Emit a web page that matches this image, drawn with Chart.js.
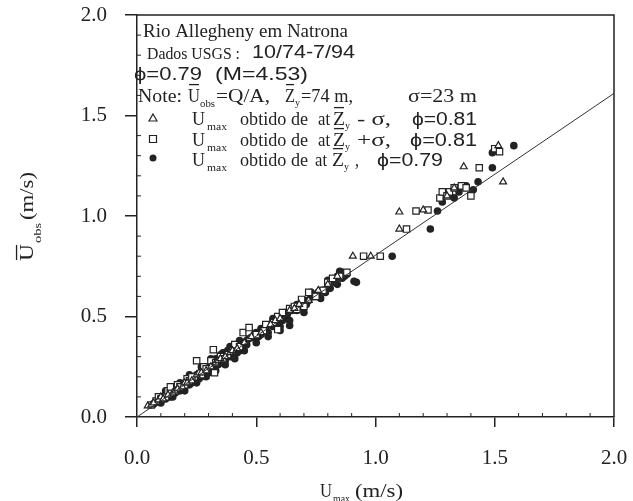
<!DOCTYPE html>
<html>
<head>
<meta charset="utf-8">
<script src="https://cdn.jsdelivr.net/npm/chart.js@4.4.1/dist/chart.umd.min.js"></script>
<style>
  body { margin: 0; background: #fff; }
  #wrap { width: 633px; height: 501px; }
</style>
</head>
<body>
<div id="wrap"><canvas id="chart"></canvas></div>
<script>
// Umax (x) and Uobs (y), one pair of arrays per marker type
const triX = [0.045, 0.06, 0.07, 0.09, 0.10, 0.11, 0.13, 0.15, 0.16, 0.17, 0.19, 0.20, 0.21, 0.23, 0.25, 0.26, 0.27, 0.29, 0.31, 0.33,
              0.34, 0.35, 0.37, 0.39, 0.40, 0.42, 0.45, 0.47, 0.48, 0.52, 0.56, 0.58, 0.60, 0.64, 0.66, 0.68, 0.72, 0.76, 0.80, 0.84,
              0.905, 0.98, 1.10, 1.10, 1.20, 1.30, 1.37, 1.515, 1.535, 1.33];
const triY = [0.055, 0.06, 0.07, 0.085, 0.10, 0.09, 0.11, 0.12, 0.13, 0.14, 0.15, 0.17, 0.17, 0.18, 0.21, 0.22, 0.22, 0.23, 0.25, 0.27,
              0.28, 0.29, 0.30, 0.32, 0.33, 0.34, 0.37, 0.39, 0.40, 0.42, 0.46, 0.48, 0.49, 0.53, 0.54, 0.56, 0.58, 0.63, 0.66, 0.70,
              0.80, 0.80, 0.935, 1.02, 1.03, 1.10, 1.245, 1.35, 1.17, 1.14];

const sqX = [0.06, 0.08, 0.09, 0.10, 0.12, 0.13, 0.14, 0.16, 0.17, 0.18, 0.20, 0.21, 0.22, 0.25, 0.24, 0.27, 0.28, 0.29, 0.31, 0.325,
             0.33, 0.35, 0.36, 0.38, 0.40, 0.41, 0.43, 0.445, 0.47, 0.50, 0.53, 0.54, 0.57, 0.59, 0.61, 0.64, 0.66, 0.70, 0.72, 0.75,
             0.78, 0.80, 0.82, 0.85, 0.88, 0.95, 1.02, 1.13, 1.17, 1.22, 1.27, 1.28, 1.30, 1.31, 1.33, 1.36, 1.40, 1.435, 1.50, 1.52,
             1.38, 0.32, 0.47, 0.59, 0.14, 0.23, 0.67, 0.69];
const sqY = [0.06, 0.08, 0.10, 0.09, 0.10, 0.13, 0.12, 0.13, 0.16, 0.15, 0.16, 0.19, 0.18, 0.28, 0.20, 0.21, 0.25, 0.24, 0.28, 0.22,
             0.27, 0.30, 0.29, 0.31, 0.33, 0.36, 0.35, 0.42, 0.42, 0.41, 0.43, 0.46, 0.47, 0.50, 0.52, 0.54, 0.55, 0.55, 0.62, 0.60,
             0.63, 0.67, 0.69, 0.70, 0.72, 0.80, 0.80, 0.935, 1.025, 1.03, 1.09, 1.12, 1.10, 1.12, 1.14, 1.15, 1.10, 1.24, 1.335, 1.32,
             1.14, 0.335, 0.445, 0.435, 0.15, 0.20, 0.535, 0.585];

const dotX = [0.07, 0.08, 0.09, 0.10, 0.11, 0.12, 0.13, 0.14, 0.15, 0.16, 0.17, 0.18, 0.19, 0.20, 0.21, 0.22, 0.23, 0.24, 0.25, 0.26,
              0.27, 0.28, 0.29, 0.30, 0.31, 0.32, 0.33, 0.34, 0.35, 0.36, 0.37, 0.38, 0.39, 0.40, 0.41, 0.42, 0.43, 0.44, 0.45, 0.46,
              0.47, 0.49, 0.50, 0.52, 0.53, 0.55, 0.56, 0.57, 0.58, 0.60, 0.61, 0.63, 0.64, 0.65, 0.66, 0.68, 0.70, 0.72, 0.74, 0.76,
              0.79, 0.80, 0.82, 0.83, 0.84, 0.85, 0.87, 0.91, 0.92, 1.07, 1.23, 1.26, 1.33, 1.43, 1.49, 1.49, 1.58, 1.41,
              0.10, 0.12, 0.14, 0.16, 0.18, 0.20, 0.22, 0.23, 0.25, 0.27, 0.28, 0.30, 0.32, 0.33, 0.34, 0.35, 0.36, 0.37, 0.38, 0.39,
              0.40, 0.41, 0.42, 0.43, 0.44, 0.46, 0.48, 0.51, 0.54, 0.59, 0.62, 0.67, 0.69, 0.71, 0.73, 0.75, 0.78, 0.81, 0.86, 0.88,
              1.28, 1.30, 1.35, 1.38,
              0.12, 0.15, 0.18, 0.20, 0.22, 0.25, 0.27, 0.29, 0.31, 0.33, 0.35, 0.37, 0.39, 0.41, 0.43, 0.45, 0.47, 0.50, 0.52, 0.55,
              0.57, 0.60, 0.62, 0.64, 0.67, 0.70, 0.73, 0.77, 0.80, 0.84, 0.86];
const dotY = [0.065, 0.08, 0.075, 0.085, 0.10, 0.11, 0.105, 0.115, 0.13, 0.14, 0.13, 0.15, 0.16, 0.17, 0.165, 0.18, 0.19, 0.20, 0.21, 0.19,
              0.23, 0.22, 0.22, 0.24, 0.26, 0.25, 0.27, 0.28, 0.29, 0.30, 0.32, 0.31, 0.33, 0.34, 0.31, 0.35, 0.33, 0.36, 0.37, 0.38,
              0.39, 0.40, 0.42, 0.41, 0.43, 0.42, 0.46, 0.45, 0.47, 0.45, 0.48, 0.51, 0.455, 0.53, 0.54, 0.55, 0.58, 0.58, 0.60, 0.62,
              0.62, 0.66, 0.67, 0.68, 0.70, 0.725, 0.70, 0.675, 0.67, 0.80, 0.935, 1.025, 1.09, 1.17, 1.24, 1.315, 1.35, 1.13,
              0.07, 0.09, 0.10, 0.12, 0.13, 0.15, 0.16, 0.17, 0.18, 0.20, 0.24, 0.22, 0.23, 0.29, 0.26, 0.27, 0.32, 0.28, 0.33, 0.30,
              0.31, 0.35, 0.32, 0.36, 0.34, 0.36, 0.40, 0.40, 0.44, 0.48, 0.49, 0.53, 0.57, 0.56, 0.60, 0.60, 0.63, 0.64, 0.69, 0.71,
              1.07, 1.11, 1.12, 1.15,
              0.13, 0.10, 0.17, 0.13, 0.21, 0.17, 0.25, 0.20, 0.29, 0.23, 0.31, 0.26, 0.35, 0.29, 0.38, 0.33, 0.41, 0.37, 0.44, 0.40,
              0.49, 0.43, 0.52, 0.48, 0.56, 0.52, 0.62, 0.59, 0.68, 0.66, 0.72];

// fitted line through the origin
const fitX = [0, 2];
const fitY = [0, 1.61];

const tickValues = [0, 0.5, 1.0, 1.5, 2.0];

const ink = '#222';
const serif = '"Liberation Serif", "DejaVu Serif", serif';
const sans = '"Liberation Sans", "DejaVu Sans", sans-serif';

const pairs = (xs, ys) => xs.map((x, i) => ({ x: x, y: ys[i] }));

// draw a piece of text stretched to a given width, optional overbar
function seg(ctx, t, x, y, w, size, family, bar) {
  ctx.font = size + 'px ' + (family || serif);
  const m = ctx.measureText(t).width;
  ctx.save();
  ctx.translate(x, y);
  ctx.scale(w / m, 1);
  ctx.fillText(t, 0, 0);
  ctx.restore();
  if (bar) ctx.fillRect(x + 1, y - size * 0.95, w - 2, 1.3);
}

const decor = {
  id: 'decor',
  afterDraw(chart) {
    const ctx = chart.ctx;
    const a = chart.chartArea;
    const xs = chart.scales.x, ys = chart.scales.y;
    ctx.save();
    ctx.strokeStyle = ink;
    ctx.fillStyle = ink;
    ctx.lineWidth = 1.5;
    // frame top and right
    ctx.beginPath();
    ctx.moveTo(a.left, a.top); ctx.lineTo(a.right, a.top); ctx.lineTo(a.right, a.bottom);
    ctx.stroke();
    // minor ticks inside
    ctx.lineWidth = 1;
    ctx.beginPath();
    for (let i = 1; i < 20; i++) {
      if (i % 5 === 0) continue;
      const px = xs.getPixelForValue(i / 10);
      ctx.moveTo(px, a.bottom); ctx.lineTo(px, a.bottom - 4);
      const py = ys.getPixelForValue(i / 10);
      ctx.moveTo(a.left, py); ctx.lineTo(a.left + 4, py);
    }
    ctx.stroke();

    // annotation block
    ctx.textBaseline = 'alphabetic';
    seg(ctx, 'Rio Allegheny em Natrona', 143, 37, 205, 19);
    seg(ctx, 'Dados USGS :', 147, 59, 93, 17);
    seg(ctx, '10/74-7/94', 252, 58, 103, 18, sans);
    seg(ctx, '\u03D5=0.79', 134, 80, 68, 18, sans);
    seg(ctx, '(M=4.53)', 215, 80, 93, 18, sans);

    seg(ctx, 'Note:', 138, 102, 44, 19);
    seg(ctx, 'U', 188, 102, 12, 19, serif, true);
    seg(ctx, 'obs', 200, 107, 15, 10);
    seg(ctx, '=Q/A,', 216, 102, 54, 18);
    seg(ctx, 'Z', 285, 102, 10, 19, serif, true);
    seg(ctx, 'y', 295, 106, 5, 10);
    seg(ctx, '=74 m,', 301, 102, 52, 18);
    seg(ctx, '\u03C3=23 m', 408, 102, 69, 19);

    const legend = [
      ['tri', 118, 125, 318, 333, [['- \u03C3,', 357, 34]], 412, '\u03D5=0.81', 65],
      ['sq', 139, 146, 318, 333, [['+\u03C3,', 357, 34]], 410, '\u03D5=0.81', 67],
      ['dot', 158, 166, 315, 332, [[',', 355, 4]], 377, '\u03D5=0.79', 66]
    ];
    legend.forEach(([kind, my, by, atX, zX, rest, phiX, phiT, phiW]) => {
      const mx = 153;
      ctx.lineWidth = 1.2;
      ctx.beginPath();
      if (kind === 'tri') {
        ctx.moveTo(mx, my - 4); ctx.lineTo(mx + 4, my + 3); ctx.lineTo(mx - 4, my + 3); ctx.closePath(); ctx.stroke();
      } else if (kind === 'sq') {
        ctx.rect(mx - 3.5, my - 3.5, 7, 7); ctx.stroke();
      } else {
        ctx.arc(mx, my, 3.5, 0, Math.PI * 2); ctx.fill();
      }
      seg(ctx, 'U', 192, by, 13, 19);
      seg(ctx, 'max', 207, by + 5, 20, 10);
      seg(ctx, 'obtido de', 240, by, 68, 19);
      seg(ctx, 'at', atX, by, 12, 19);
      seg(ctx, 'Z', zX, by, 12, 19, serif, true);
      seg(ctx, 'y', zX + 12, by + 4, 5, 10);
      rest.forEach(([t, x, w]) => seg(ctx, t, x, by, w, 19));
      seg(ctx, phiT, phiX, by, phiW, 18, sans);
    });

    // axis titles
    seg(ctx, 'U', 320, 497, 12, 18);
    seg(ctx, 'max', 333, 502, 17, 10);
    seg(ctx, '(m/s)', 355, 497, 48, 18);
    ctx.translate(33, 261);
    ctx.rotate(-Math.PI / 2);
    seg(ctx, 'U', 0, 0, 17, 18, serif, true);
    seg(ctx, 'obs', 18, 8, 20, 11);
    seg(ctx, '(m/s)', 41, 0, 48, 18);
    ctx.restore();
  }
};

const axisCommon = {
  type: 'linear',
  min: 0,
  max: 2,
  afterBuildTicks: s => { s.ticks = tickValues.map(v => ({ value: v })); },
  grid: { drawOnChartArea: false, color: ink, lineWidth: 1.5 },
  border: { color: ink, width: 1.5 },
  title: { display: false }
};

new Chart(document.getElementById('chart'), {
  type: 'scatter',
  data: {
    datasets: [
      { type: 'line', data: pairs(fitX, fitY), borderColor: '#333', borderWidth: 1, pointRadius: 0 },
      { data: pairs(triX, triY), pointStyle: 'triangle', pointRadius: 4, borderColor: ink, borderWidth: 1.2, backgroundColor: '#fff' },
      { data: pairs(sqX, sqY), pointStyle: 'rect', pointRadius: 4.5, borderColor: ink, borderWidth: 1.2, backgroundColor: '#fff' },
      { data: pairs(dotX, dotY), pointStyle: 'circle', pointRadius: 3.8, borderColor: ink, borderWidth: 0, backgroundColor: ink }
    ]
  },
  options: {
    responsive: true,
    maintainAspectRatio: false,
    animation: false,
    layout: { padding: { top: 15, right: 19, left: 0, bottom: 0 } },
    plugins: { legend: { display: false }, tooltip: { enabled: false } },
    scales: {
      x: Object.assign({}, axisCommon, {
        grid: Object.assign({}, axisCommon.grid, { tickLength: 10 }),
        ticks: { callback: v => v.toFixed(1), font: { family: serif, size: 21 }, color: ink, padding: 19, maxRotation: 0 },
        afterFit: s => { s.height = 84; s.paddingLeft = 0; s.paddingRight = 0; }
      }),
      y: Object.assign({}, axisCommon, {
        grid: Object.assign({}, axisCommon.grid, { tickLength: 12 }),
        ticks: { callback: v => v.toFixed(1), font: { family: serif, size: 21 }, color: ink, padding: 18 },
        afterFit: s => { s.width = 137; s.paddingTop = 0; s.paddingBottom = 0; }
      })
    }
  },
  plugins: [decor]
});
</script>
</body>
</html>
